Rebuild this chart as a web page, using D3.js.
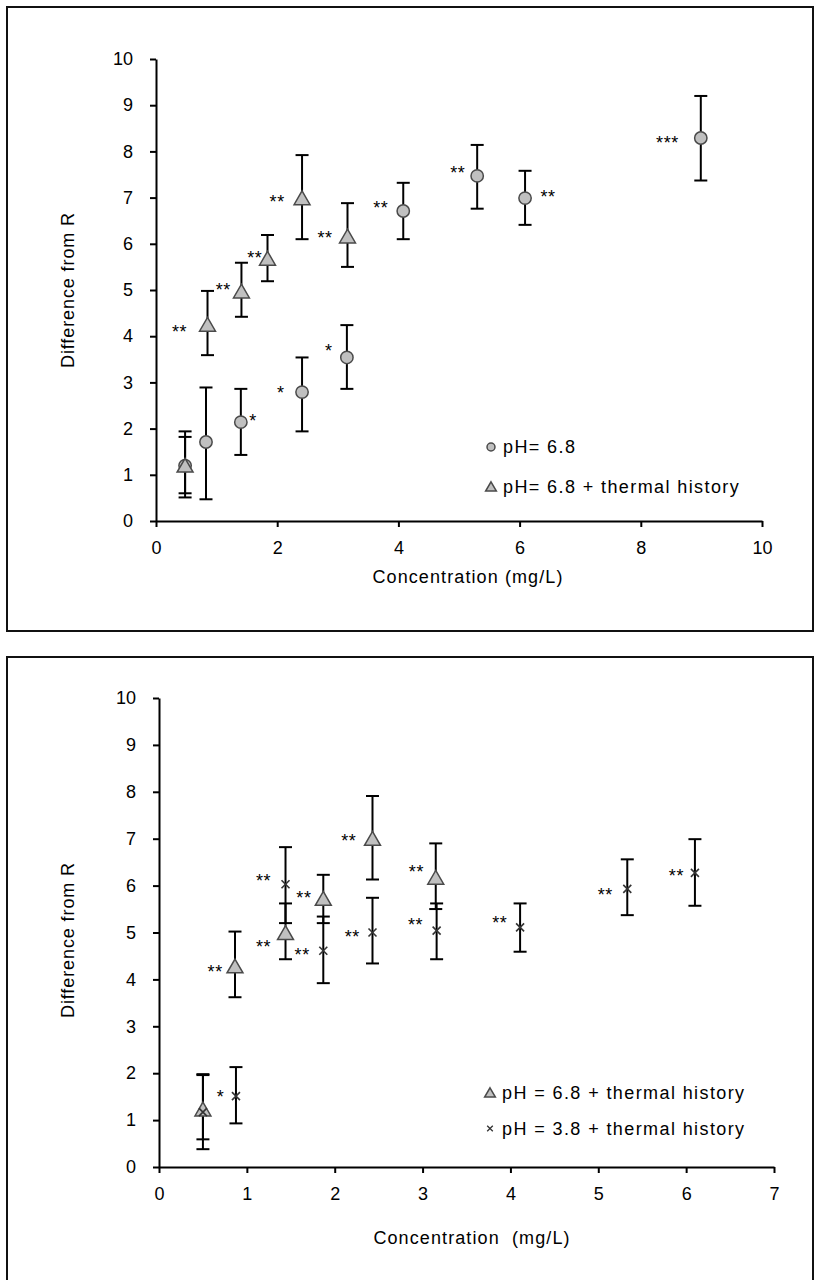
<!DOCTYPE html>
<html><head><meta charset="utf-8">
<script src="https://cdn.jsdelivr.net/npm/d3@7"></script>
<style>
body{margin:0;background:#fff}
svg{display:block}
text{font-family:"Liberation Sans",Arial,sans-serif;fill:#000}
</style>
</head><body>
<svg id="c" width="816" height="1280"></svg>
<script>
// ---------- data ----------
const yTickValues = [0,1,2,3,4,5,6,7,8,9,10];
const xTickValuesTop = [0,2,4,6,8,10];
const xTickValuesBottom = [0,1,2,3,4,5,6,7];

// top panel: pH 6.8 (circles)
const circConc = [0.48, 0.825, 1.40, 2.41, 3.15, 4.08, 5.30, 6.09, 8.99];
const circDiff = [1.20, 1.71, 2.14, 2.79, 3.54, 6.71, 7.47, 6.99, 8.29];
const circHigh = [1.82, 2.89, 2.86, 3.54, 4.24, 7.32, 8.14, 7.58, 9.20];
const circLow  = [0.60, 0.47, 1.43, 1.94, 2.86, 6.10, 6.76, 6.41, 7.37];

// top panel: pH 6.8 + thermal history (triangles)
const triTopConc = [0.48, 0.85, 1.41, 1.84, 2.41, 3.16];
const triTopDiff = [1.19, 4.24, 4.96, 5.67, 6.98, 6.15];
const triTopHigh = [1.94, 4.98, 5.59, 6.19, 7.92, 6.88];
const triTopLow  = [0.51, 3.59, 4.42, 5.19, 6.10, 5.50];

// bottom panel: pH 6.8 + thermal history (triangles)
const triBotConc = [0.50, 0.865, 1.44, 1.87, 2.43, 3.15];
const triBotDiff = [1.22, 4.27, 4.98, 5.71, 6.99, 6.16];
const triBotHigh = [1.98, 5.02, 5.62, 6.23, 7.91, 6.90];
const triBotLow  = [0.59, 3.62, 4.43, 5.20, 6.13, 5.50];

// bottom panel: pH 3.8 + thermal history (crosses)
const crossConc = [0.50, 0.876, 1.44, 1.87, 2.43, 3.16, 4.11, 5.33, 6.10];
const crossDiff = [1.17, 1.51, 6.03, 4.61, 5.00, 5.04, 5.11, 5.93, 6.27];
const crossHigh = [1.96, 2.13, 6.82, 5.34, 5.74, 5.62, 5.62, 6.56, 6.99];
const crossLow  = [0.38, 0.93, 5.20, 3.92, 4.34, 4.43, 4.59, 5.37, 5.57];

// significance marks (anchored in data units)
const sigTopText = ["**","**","**","**","**","**","**","**","***","*","*","*"];
const sigTopConc = [0.39, 1.11, 1.63, 2.00, 2.79, 3.71, 4.98, 6.47, 8.44, 1.60, 2.06, 2.85];
const sigTopDiff = [4.17, 5.09, 5.78, 6.99, 6.21, 6.86, 7.62, 7.10, 8.27, 2.25, 2.86, 3.77];

const sigBotText = ["*","**","**","**","**","**","**","**","**","**","**","**","**"];
const sigBotConc = [0.70, 0.64, 1.19, 1.19, 1.65, 1.63, 2.16, 2.20, 2.93, 2.92, 3.88, 5.08, 5.89];
const sigBotDiff = [1.58, 4.25, 4.78, 6.19, 5.82, 4.61, 7.04, 5.00, 6.37, 5.25, 5.29, 5.88, 6.30];

const legendTopLabels = ["pH= 6.8", "pH= 6.8 + thermal history"];
const legendBotLabels = ["pH = 6.8 + thermal history", "pH = 3.8 + thermal history"];
const yTitle = "Difference from R";
const xTitleTop = "Concentration (mg/L)";
const xTitleBot = "Concentration\u00a0\u00a0(mg/L)";

// ---------- drawing ----------
const svg = d3.select("#c");
const FILL = "#c0c0c0", MSTROKE = "#4a4a4a";

function zip(xs, ys, hi, lo){ return xs.map((x,i)=>({x, y:ys[i], hi:hi[i], lo:lo[i]})); }

function panel(o){
  const g = svg.append("g");
  g.append("rect").attr("x",o.box[0]).attr("y",o.box[1]).attr("width",o.box[2]).attr("height",o.box[3])
    .attr("fill","none").attr("stroke","#111").attr("stroke-width",2);
  const x = d3.scaleLinear().domain(o.xDomain).range(o.xRange);
  const y = d3.scaleLinear().domain([0,10]).range(o.yRange);

  const ya = g.append("g").attr("transform",`translate(${o.xRange[0]},0)`)
    .call(d3.axisLeft(y).tickValues(yTickValues).tickFormat(d3.format("d")).tickSize(6).tickSizeOuter(0).tickPadding(17));
  const xa = g.append("g").attr("transform",`translate(0,${o.yRange[0]})`)
    .call(d3.axisBottom(x).tickValues(o.xTicks).tickFormat(d3.format("d")).tickSize(6).tickSizeOuter(0).tickPadding(14));
  [ya,xa].forEach(a=>{
    a.select(".domain").attr("stroke","#000").attr("stroke-width",2);
    a.selectAll(".tick line").attr("stroke","#000").attr("stroke-width",2);
    a.selectAll(".tick text").attr("font-size",18).attr("font-family","'Liberation Sans',Arial,sans-serif").attr("fill","#000");
  });

  g.append("text").attr("transform",`translate(${o.yTitlePos[0]},${o.yTitlePos[1]}) rotate(-90)`)
    .attr("text-anchor","middle").attr("font-size",18).attr("letter-spacing",0.9).text(yTitle);
  g.append("text").attr("x",o.xTitlePos[0]).attr("y",o.xTitlePos[1]).attr("text-anchor","middle")
    .attr("font-size",18).attr("letter-spacing",1.1).text(o.xTitle);

  const cap = 6.5;
  o.series.forEach(s=>{
    const d = zip(s.x, s.y, s.hi, s.lo);
    const eb = g.append("g").attr("stroke","#000").attr("stroke-width",2).attr("fill","none");
    d.forEach(p=>{
      const px = x(p.x);
      eb.append("line").attr("x1",px).attr("x2",px).attr("y1",y(p.hi)).attr("y2",y(p.lo));
      eb.append("line").attr("x1",px-cap).attr("x2",px+cap).attr("y1",y(p.hi)).attr("y2",y(p.hi));
      eb.append("line").attr("x1",px-cap).attr("x2",px+cap).attr("y1",y(p.lo)).attr("y2",y(p.lo));
    });
  });
  o.series.forEach(s=>{
    const d = zip(s.x, s.y, s.hi, s.lo);
    drawMarkers(g, s.kind, d.map(p=>[x(p.x), y(p.y)]), false);
  });

  g.selectAll("text.sig").data(o.sigText).join("text").attr("class","sig")
    .attr("x",(t,i)=>x(o.sigX[i])).attr("y",(t,i)=>y(o.sigY[i])+10)
    .attr("text-anchor","middle").attr("font-size",18).attr("letter-spacing",0.6)
    .attr("fill","#2a2035").text(t=>t);

  // legend
  o.legend.forEach((lab,i)=>{
    const lx = o.legendPos[0], ly = o.legendPos[1] + i*o.legendGap;
    drawMarkers(g, o.legendKinds[i], [[lx,ly]], true);
    g.append("text").attr("x",lx+12).attr("y",ly).attr("dy","0.35em")
      .attr("font-size",18).attr("letter-spacing",1.4).text(lab);
  });
}

function drawMarkers(g, kind, pts, small){
  if(kind==="circle"){
    g.append("g").selectAll("path").data(pts).join("path")
      .attr("transform",p=>`translate(${p[0]},${p[1]})`)
      .attr("d",d3.symbol(d3.symbolCircle, small?50:120)())
      .attr("fill",FILL).attr("stroke",MSTROKE).attr("stroke-width",1.5);
  } else if(kind==="triangle"){
    g.append("g").selectAll("path").data(pts).join("path")
      .attr("transform",p=>`translate(${p[0]},${p[1]+(small?1:1.5)})`)
      .attr("d",d3.symbol(d3.symbolTriangle, small?50:110)())
      .attr("fill",FILL).attr("stroke",MSTROKE).attr("stroke-width",1.5);
  } else {
    const r = small?2.8:4;
    g.append("g").selectAll("path").data(pts).join("path")
      .attr("transform",p=>`translate(${p[0]},${p[1]})`)
      .attr("d",`M${-r},${-r}L${r},${r}M${-r},${r}L${r},${-r}`)
      .attr("fill","none").attr("stroke","#333").attr("stroke-width",small?1.3:1.6);
  }
}

panel({
  box:[7,7,806,624],
  xDomain:[0,10], xRange:[156,762], yRange:[521,59], xTicks:xTickValuesTop,
  yTitlePos:[74,290], xTitlePos:[468,583], xTitle:xTitleTop,
  series:[
    {kind:"circle", x:circConc, y:circDiff, hi:circHigh, lo:circLow},
    {kind:"triangle", x:triTopConc, y:triTopDiff, hi:triTopHigh, lo:triTopLow}
  ],
  sigText:sigTopText, sigX:sigTopConc, sigY:sigTopDiff,
  legend:legendTopLabels, legendKinds:["circle","triangle"], legendPos:[491,447], legendGap:40
});

panel({
  box:[7,657,806,640],
  xDomain:[0,7], xRange:[159,774], yRange:[1167,698], xTicks:xTickValuesBottom,
  yTitlePos:[74,940], xTitlePos:[472,1244], xTitle:xTitleBot,
  series:[
    {kind:"triangle", x:triBotConc, y:triBotDiff, hi:triBotHigh, lo:triBotLow},
    {kind:"cross", x:crossConc, y:crossDiff, hi:crossHigh, lo:crossLow}
  ],
  sigText:sigBotText, sigX:sigBotConc, sigY:sigBotDiff,
  legend:legendBotLabels, legendKinds:["triangle","cross"], legendPos:[490,1093], legendGap:35.5
});
</script>
</body></html>
